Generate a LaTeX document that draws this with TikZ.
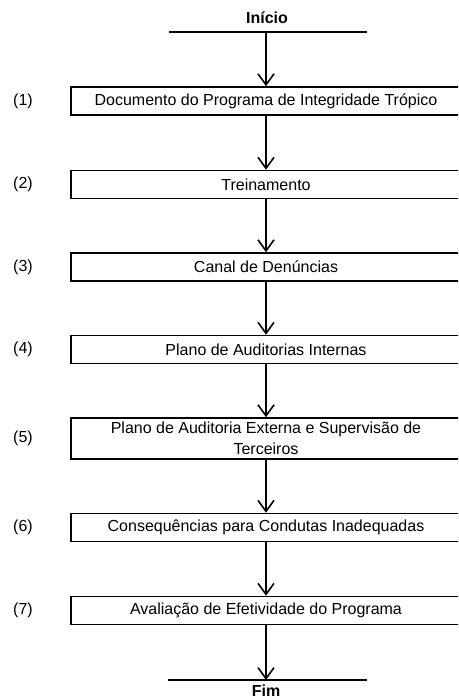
\documentclass[tikz,border=0pt]{standalone}
\usepackage{fontspec}
\setmainfont{Liberation Sans}
\usetikzlibrary{arrows.meta}
\begin{document}
\begin{tikzpicture}[x=1pt,y=1pt,
  stepbox/.style={draw, line width=1.6pt, minimum width=390pt, minimum height=28pt,
    inner sep=0pt, align=center, font=\fontsize{16}{21}\selectfont},
  numlabel/.style={font=\fontsize{16}{21}\selectfont},
  termlabel/.style={font=\fontsize{16}{21}\selectfont\bfseries},
  flow/.style={line width=1.6pt, -{Straight Barb[length=11pt,width=16pt,line width=1.6pt]}},
  bar/.style={line width=1.6pt}]
\useasboundingbox (0,0) rectangle (458,699);
\clip (0,0) rectangle (458,699);
% terminals
\node[termlabel] (ini) at (267,681) {Início};
\coordinate (il) at (169,667);
\coordinate (ir) at (367,667);
\coordinate (itop) at (266,667);
\draw[bar] (il) -- (ir);
\node[termlabel] (fim) at (266,8.5) {Fim};
\coordinate (fl) at (168,19);
\coordinate (fr) at (367,19);
\coordinate (fbot) at (266,19);
\draw[bar] (fl) -- (fr);
% boxes
\node[stepbox] (b1) at (266,598) {Documento do Programa de Integridade Trópico};
\node[stepbox] (b2) at (266,514.5) {Treinamento};
\node[stepbox] (b3) at (266,432) {Canal de Denúncias};
\node[stepbox] (b4) at (266,349.5) {Plano de Auditorias Internas};
\node[stepbox, minimum height=41pt] (b5) at (266,260.5) {Plano de Auditoria Externa e Supervisão de\\Terceiros};
\node[stepbox] (b6) at (266,171.5) {Consequências para Condutas Inadequadas};
\node[stepbox] (b7) at (266,88.5) {Avaliação de Efetividade do Programa};
% number labels
\node[numlabel] (n1) at (23,598) {(1)};
\node[numlabel] (n2) at (23,514.5) {(2)};
\node[numlabel] (n3) at (23,432) {(3)};
\node[numlabel] (n4) at (23,349.5) {(4)};
\node[numlabel] (n5) at (23,260.5) {(5)};
\node[numlabel] (n6) at (23,171.5) {(6)};
\node[numlabel] (n7) at (23,88.5) {(7)};
% arrows
\draw[flow] (itop) -- (b1.north);
\draw[flow] (b1) -- (b2);
\draw[flow] (b2) -- (b3);
\draw[flow] (b3) -- (b4);
\draw[flow] (b4) -- (b5);
\draw[flow] (b5) -- (b6);
\draw[flow] (b6) -- (b7);
\draw[flow] (b7.south) -- (fbot);
\end{tikzpicture}
\end{document}
